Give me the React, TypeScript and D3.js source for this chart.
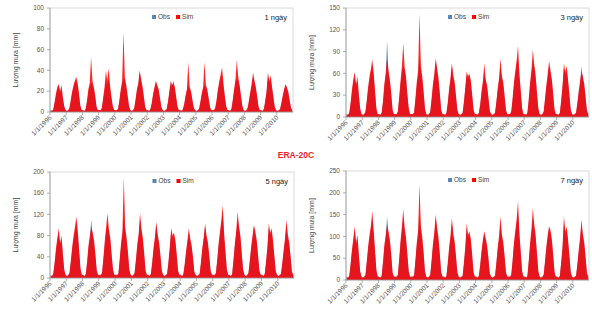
import React from 'react';
import * as d3 from 'd3';

// monthly series per year (Jan..Dec), years 1996..2010
const years = d3.range(1996, 2011);
const tickYears = d3.range(1996, 2011);

const obs1 = [
  [2,1,2,8,15,22,25,18,23,12,5,2],[1,1,3,10,18,22,28,30,25,15,5,1],[1,1,3,9,18,24,28,26,22,14,4,1],
  [2,1,3,12,20,30,26,32,22,14,5,2],[1,1,3,10,19,26,33,30,22,14,5,2],[1,1,3,10,20,26,38,30,22,13,4,1],
  [1,1,3,8,16,22,28,24,20,12,4,1],[1,1,2,9,18,26,24,30,22,13,4,1],[1,1,2,7,14,20,26,22,18,10,4,1],
  [1,1,3,9,16,22,25,24,20,12,4,1],[1,1,3,10,20,26,30,36,24,14,5,2],[1,1,3,10,20,28,32,30,24,14,5,1],
  [1,1,3,10,18,24,34,28,22,13,4,1],[1,1,3,9,18,34,28,32,22,13,4,1],[1,1,2,8,14,20,25,22,18,11,4,1],
];
const sim1 = [
  [2,1,3,10,18,24,27,20,26,15,6,2],[1,2,4,12,20,26,30,34,28,18,6,2],[2,1,3,11,22,28,53,30,24,16,5,2],
  [2,2,4,14,24,40,30,42,26,15,6,2],[2,2,3,12,22,30,77,33,26,17,6,2],[1,2,4,13,22,28,40,32,25,16,5,2],
  [2,1,3,9,18,24,30,26,22,14,5,2],[1,2,3,10,20,30,26,28,24,15,5,2],[2,1,3,8,16,22,48,24,20,12,4,2],
  [1,2,3,10,18,24,48,26,22,14,5,2],[2,2,4,12,22,30,36,43,28,16,6,2],[2,1,3,12,22,32,50,34,26,16,6,2],
  [1,2,4,12,20,28,38,30,24,15,5,2],[2,1,3,11,20,38,30,35,24,15,5,2],[1,2,3,9,16,22,27,24,20,12,4,2],
];
const obs3 = [
  [3,2,5,18,34,48,55,42,50,28,10,3],[2,3,6,20,38,50,60,70,55,32,10,3],[3,2,5,20,40,56,105,60,48,30,9,3],
  [3,3,6,24,44,62,70,64,50,28,10,3],[3,3,5,22,42,58,85,64,50,30,10,3],[2,3,6,22,40,54,76,62,48,30,9,3],
  [3,2,5,18,36,50,70,54,44,26,9,3],[2,3,5,20,38,58,52,56,46,28,9,3],[3,2,5,16,32,46,60,50,40,24,8,3],
  [2,3,5,20,36,50,70,54,44,26,9,3],[3,3,6,22,42,58,70,80,54,32,10,3],[3,2,5,22,42,60,75,68,52,30,10,3],
  [2,3,6,22,40,54,70,60,48,28,9,3],[3,2,5,20,40,66,58,64,48,28,9,3],[2,3,5,18,32,46,70,52,42,26,8,3],
];
const sim3 = [
  [4,3,6,20,38,52,62,45,56,32,12,4],[3,4,8,24,42,56,66,79,62,38,12,4],[4,3,6,22,46,60,80,64,52,34,10,4],
  [4,4,8,28,50,70,102,68,56,32,12,4],[4,4,6,26,48,64,142,70,56,36,12,4],[3,4,8,26,46,60,81,68,54,34,10,4],
  [4,3,6,20,40,54,74,58,48,30,10,4],[3,4,6,22,42,63,56,60,50,32,10,4],[4,3,6,18,36,50,74,52,44,28,9,4],
  [3,4,6,22,40,54,81,56,48,30,10,4],[4,4,8,26,48,64,78,98,60,36,12,4],[4,3,6,26,48,66,93,72,58,34,12,4],
  [3,4,8,26,44,60,77,64,52,32,10,4],[4,3,6,24,44,74,62,70,52,32,10,4],[3,4,6,20,36,50,62,56,46,28,9,4],
];
const obs5 = [
  [4,3,6,26,50,70,86,62,74,42,14,5],[3,4,8,30,54,72,88,104,82,48,16,5],[4,3,6,28,56,74,110,80,66,42,12,5],
  [4,4,8,34,62,86,104,86,70,40,14,5],[4,4,6,32,60,80,115,88,70,44,14,5],[3,4,8,32,58,78,110,86,68,42,12,5],
  [4,3,6,26,52,72,100,76,62,38,12,5],[3,4,6,28,54,88,74,80,66,40,12,5],[4,3,6,24,46,66,86,70,56,36,10,5],
  [3,4,6,28,52,72,96,76,62,38,12,5],[4,4,8,32,60,80,100,120,76,44,14,5],[4,3,6,32,60,82,110,92,74,42,14,5],
  [3,4,8,30,54,74,96,82,66,40,12,5],[4,3,6,28,54,96,80,88,66,40,12,5],[3,4,6,26,48,70,100,76,62,38,10,5],
];
const sim5 = [
  [6,4,8,30,56,76,94,66,80,46,16,6],[4,6,10,34,60,80,96,116,90,54,18,6],[6,4,8,32,62,80,96,86,72,46,14,6],
  [6,6,10,38,70,96,122,92,76,46,16,6],[6,6,8,36,66,88,190,96,76,50,16,6],[4,6,10,36,64,84,122,94,76,48,14,6],
  [6,4,8,30,58,78,106,82,68,44,14,6],[4,6,8,32,60,94,80,86,72,46,14,6],[6,4,8,28,52,72,94,74,62,40,12,6],
  [4,6,8,32,58,78,103,80,68,44,14,6],[6,6,10,36,66,88,110,137,84,50,16,6],[6,4,8,36,66,90,125,98,80,48,16,6],
  [4,6,10,34,60,80,100,88,72,44,14,6],[6,4,8,32,60,103,86,94,72,44,14,6],[4,6,8,30,54,76,110,82,68,42,12,6],
];
const obs7 = [
  [6,4,8,34,64,88,112,80,96,54,18,6],[4,6,10,40,70,96,114,140,106,62,20,6],[6,4,8,38,72,96,146,104,86,54,16,6],
  [6,6,10,44,82,112,140,112,90,52,18,6],[6,6,8,42,78,104,150,114,90,58,18,6],[4,6,10,42,76,102,140,112,88,56,16,6],
  [6,4,8,36,68,94,130,100,80,50,16,6],[4,6,8,38,70,120,96,104,86,52,16,6],[6,4,8,32,60,86,104,90,74,46,14,6],
  [4,6,8,38,68,94,130,98,80,50,16,6],[6,6,10,42,78,104,128,156,98,58,18,6],[6,4,8,42,78,108,140,118,96,56,18,6],
  [4,6,10,40,70,96,118,106,86,52,16,6],[6,4,8,38,70,132,104,114,86,52,16,6],[4,6,8,34,62,90,126,98,80,48,14,6],
];
const sim7 = [
  [8,6,10,38,70,96,123,86,104,60,20,8],[6,8,12,44,78,104,124,158,116,70,24,8],[8,6,10,42,80,104,126,112,94,60,18,8],
  [8,8,12,48,90,124,162,120,98,60,20,8],[8,8,10,46,86,114,219,124,98,64,20,8],[6,8,12,46,84,110,150,122,98,62,18,8],
  [8,6,10,40,76,102,142,108,88,56,18,8],[6,8,10,42,78,131,104,112,94,60,18,8],[8,6,10,36,68,94,112,96,80,52,16,8],
  [6,8,10,42,76,102,146,104,88,56,18,8],[8,8,12,46,86,114,140,181,108,64,20,8],[8,6,10,46,86,118,165,128,104,62,20,8],
  [6,8,12,44,78,104,123,114,94,58,18,8],[8,6,10,42,78,146,112,122,94,58,18,8],[6,8,10,38,70,98,138,106,88,54,16,8],
];

const panelNames = ['1 ngày', '3 ngày', '5 ngày', '7 ngày'];
const yMax = [100, 150, 200, 250];
const yTicks = [
  [0, 20, 40, 60, 80, 100],
  [0, 30, 60, 90, 120, 150],
  [0, 40, 80, 120, 160, 200],
  [0, 50, 100, 150, 200, 250],
];
const obsAll = [obs1, obs3, obs5, obs7];
const simAll = [sim1, sim3, sim5, sim7];

const boxes = [
  { l: 50, r: 293, t: 8, b: 112 },
  { l: 346, r: 589, t: 8, b: 117 },
  { l: 50, r: 294, t: 172, b: 278 },
  { l: 346, r: 589, t: 171, b: 280 },
];

const toPoints = (rows: number[][]) =>
  rows.flatMap((row, yi) => row.map((v, m) => ({ date: new Date(years[yi], m, 15), v })));

const fmt = (d: Date) => `1/1/${d.getFullYear()}`;

function Panel({ idx }: { idx: number }) {
  const box = boxes[idx];
  const x = d3.scaleTime().domain([new Date(1996, 0, 1), new Date(2011, 0, 1)]).range([box.l, box.r]);
  const y = d3.scaleLinear().domain([0, yMax[idx]]).range([box.b, box.t]);
  const area = d3.area<{ date: Date; v: number }>()
    .x(d => x(d.date)).y0(box.b).y1(d => y(d.v));
  const obs = toPoints(obsAll[idx]);
  const sim = toPoints(simAll[idx]);
  const legX = box.l + (box.r - box.l) * 0.42;
  const midY = (box.t + box.b) / 2;
  return (
    <g fontFamily="Arial, Liberation Sans, sans-serif">
      <rect x={box.l} y={box.t} width={box.r - box.l} height={box.b - box.t} fill="white" stroke="#d0d0d0" strokeWidth={0.8} />
      <path d={area(obs) || ''} fill="#5a84b8" />
      <path d={area(sim) || ''} fill="#ff0000" fillOpacity={0.85} />
      <line x1={box.l} x2={box.l} y1={box.t} y2={box.b} stroke="#999" strokeWidth={0.8} />
      <line x1={box.l} x2={box.r} y1={box.b} y2={box.b} stroke="#999" strokeWidth={0.8} />
      {yTicks[idx].map(t => (
        <g key={t}>
          <line x1={box.l - 3} x2={box.l} y1={y(t)} y2={y(t)} stroke="#999" strokeWidth={0.8} />
          <text x={box.l - 6} y={y(t)} dy="0.35em" textAnchor="end" fontSize={6.5} fill="#555">{t}</text>
        </g>
      ))}
      {tickYears.map(yr => {
        const tx = x(new Date(yr, 0, 1));
        return (
          <g key={yr}>
            <line x1={tx} x2={tx} y1={box.b} y2={box.b + 3} stroke="#999" strokeWidth={0.8} />
            <text transform={`translate(${tx + 2},${box.b + 6}) rotate(-45)`} textAnchor="end" fontSize={6.5} fill="#555">
              {fmt(new Date(yr, 0, 1))}
            </text>
          </g>
        );
      })}
      <text transform={`translate(${box.l - 32},${midY}) rotate(-90)`} textAnchor="middle" fontSize={7} fill="#444">
        Lượng mưa [mm]
      </text>
      <rect x={legX} y={box.t + 7} width={4} height={4} fill="#5a84b8" />
      <text x={legX + 6} y={box.t + 11} fontSize={6.5} fill="#444">Obs</text>
      <rect x={legX + 24} y={box.t + 7} width={4} height={4} fill="#ff0000" />
      <text x={legX + 30} y={box.t + 11} fontSize={6.5} fill="#444">Sim</text>
      <text x={box.r - 6} y={box.t + 12} textAnchor="end" fontSize={7.5} fill="#222">{panelNames[idx]}</text>
    </g>
  );
}

export default function App() {
  return (
    <svg width={592} height={320} style={{ position: 'absolute', left: 0, top: 0, background: 'white' }}>
      {[0, 1, 2, 3].map(i => <Panel key={i} idx={i} />)}
      <text x={296} y={158} textAnchor="middle" fontSize={8.5} fontWeight="bold" fill="#e8262a" fontFamily="Arial, Liberation Sans, sans-serif">
        ERA-20C
      </text>
    </svg>
  );
}
